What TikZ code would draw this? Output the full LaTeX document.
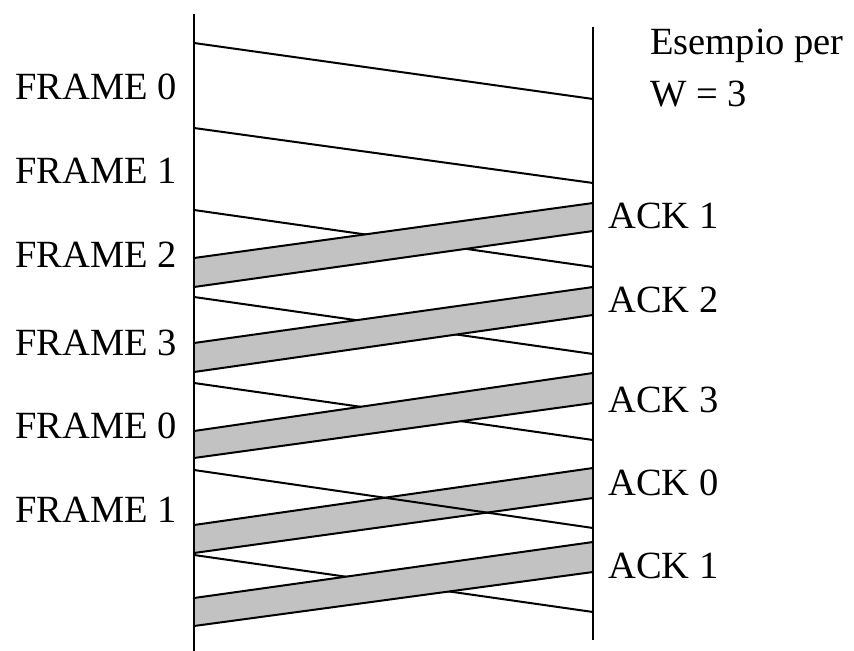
\documentclass[tikz,border=0pt]{standalone}
\usepackage{fontspec}
\setmainfont{Liberation Serif}
\definecolor{bandgray}{gray}{0.76}
\begin{document}
\begin{tikzpicture}[x=1bp,y=-1bp,
  lab/.style={inner sep=0pt,anchor=base west,font=\fontsize{38.5bp}{46bp}\selectfont},
  timeline/.style={line width=2.8bp,black},
  framemsg/.style={line width=2bp,black},
  ackband/.style={fill=bandgray}]
\useasboundingbox (0,0) rectangle (854,651);
% time lines
\coordinate (Ltop) at (194,14);
\coordinate (Lbot) at (194,651);
\coordinate (Rtop) at (593,27);
\coordinate (Rbot) at (593,640);
% frame endpoints
\coordinate (f0a) at (194,43);  \coordinate (f0b) at (593,99);
\coordinate (f1a) at (194,128); \coordinate (f1b) at (593,183);
\coordinate (f2a) at (194,210); \coordinate (f2b) at (593,267);
\coordinate (f3a) at (194,297); \coordinate (f3b) at (593,354);
\coordinate (f4a) at (194,383); \coordinate (f4b) at (593,440);
\coordinate (f5a) at (194,470); \coordinate (f5b) at (593,528);
\coordinate (f6a) at (194,555); \coordinate (f6b) at (593,612);
% ack band corners (left top/bottom, right top/bottom)
\coordinate (a1lt) at (194,258); \coordinate (a1lb) at (194,287); \coordinate (a1rt) at (593,203); \coordinate (a1rb) at (593,231);
\coordinate (a2lt) at (194,343); \coordinate (a2lb) at (194,372); \coordinate (a2rt) at (593,287); \coordinate (a2rb) at (593,315);
\coordinate (a3lt) at (194,431); \coordinate (a3lb) at (194,458); \coordinate (a3rt) at (593,373); \coordinate (a3rb) at (593,403);
\coordinate (a4lt) at (194,525); \coordinate (a4lb) at (194,553); \coordinate (a4rt) at (593,468); \coordinate (a4rb) at (593,498);
\coordinate (a5lt) at (194,598); \coordinate (a5lb) at (194,626); \coordinate (a5rt) at (593,542); \coordinate (a5rb) at (593,572);
% frames (drawn below the bands, except f5 which crosses band 4 on top)
\foreach \i in {0,1,2,3,4,6} {\draw[framemsg] (f\i a) -- (f\i b);}
% ack bands
\foreach \i in {1,2,3,4,5} {
  \fill[ackband] (a\i lt) -- (a\i rt) -- (a\i rb) -- (a\i lb) -- cycle;
  \draw[framemsg] (a\i lt) -- (a\i rt);
  \draw[framemsg] (a\i lb) -- (a\i rb);
}
\draw[framemsg] (f5a) -- (f5b);
% time lines
\draw[timeline] (Ltop) -- (Lbot);
\draw[timeline] (Rtop) -- (Rbot);
% labels
\node[lab] (t0) at (15,100) {FRAME 0};
\node[lab] (t1) at (15,183) {FRAME 1};
\node[lab] (t2) at (15,267) {FRAME 2};
\node[lab] (t3) at (15,355) {FRAME 3};
\node[lab] (t4) at (15,438) {FRAME 0};
\node[lab] (t5) at (15,522) {FRAME 1};
\node[lab] (k1) at (608,228) {ACK 1};
\node[lab] (k2) at (608,312) {ACK 2};
\node[lab] (k3) at (608,412) {ACK 3};
\node[lab] (k4) at (608,495) {ACK 0};
\node[lab] (k5) at (608,578) {ACK 1};
\node[lab] (e1) at (650,55) {Esempio per};
\node[lab] (e2) at (650,107) {W = 3};
\end{tikzpicture}
\end{document}
